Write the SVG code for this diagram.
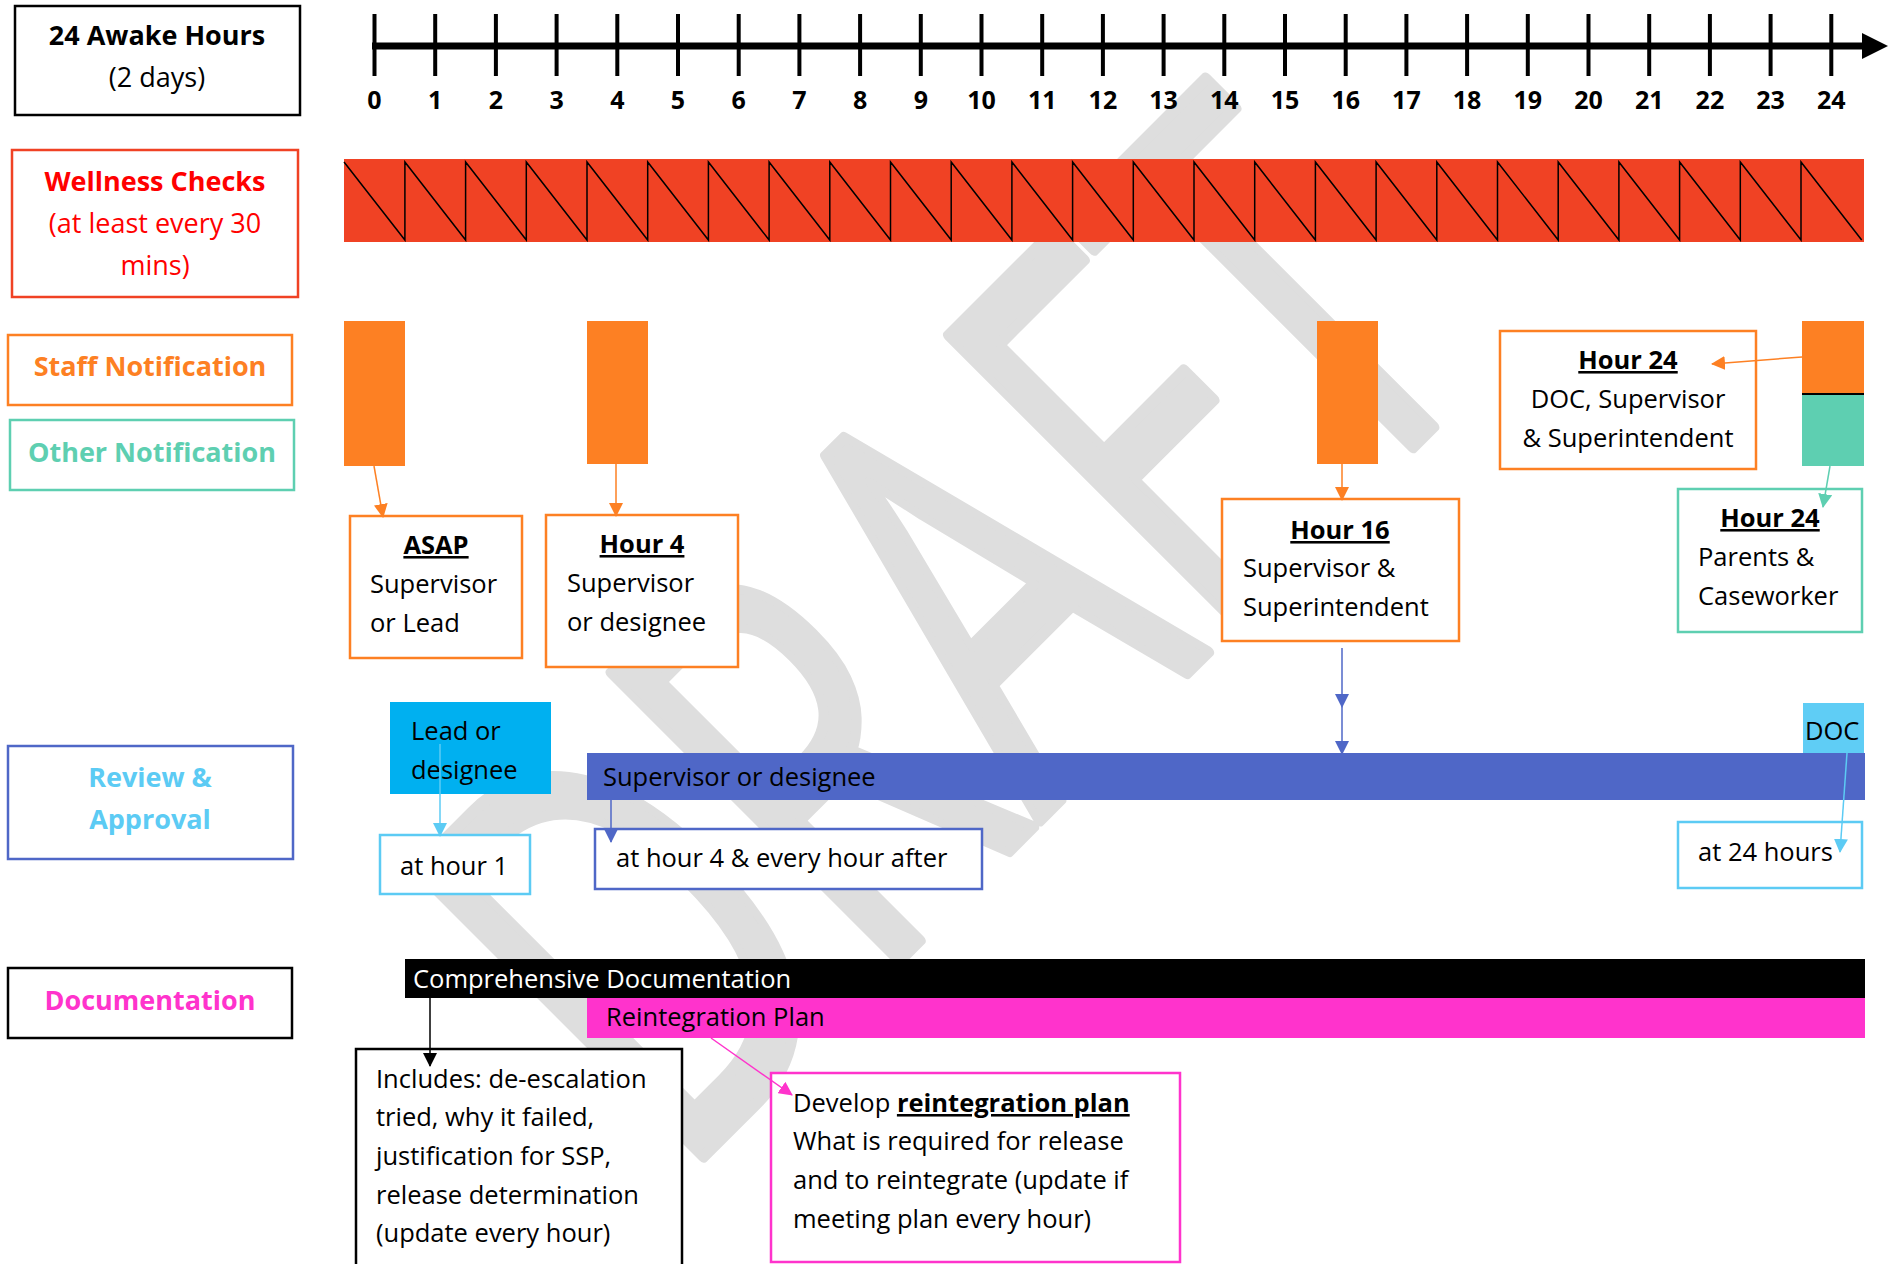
<svg xmlns="http://www.w3.org/2000/svg" width="1890" height="1264" viewBox="0 0 1890 1264">
<defs>
<style>
text{font-family:"Open Sans","Liberation Sans",sans-serif;fill:#000}
.lbl{font-weight:700;font-size:27px;text-anchor:middle}
.t{font-size:25.5px}
.hd{font-weight:700;text-decoration:underline;font-size:25.5px;text-anchor:middle}
.num{font-weight:700;font-size:25px;text-anchor:middle}
.box{fill:#fff;stroke-width:2.5}
.or{stroke:#FD8023}
.tl{stroke:#5ECFB1}
.lb{stroke:#5CCBF4}
.bl{stroke:#4F67C7}
.mg{stroke:#FF33CC}
.bk{stroke:#000}
.rd{stroke:#F04224}
.con{fill:none;stroke-width:1.5}
</style>
<marker id="aOr" markerWidth="14" markerHeight="14" refX="13" refY="7" orient="auto" markerUnits="userSpaceOnUse"><path d="M0,0 L14,7 L0,14z" fill="#FD8023"/></marker>
<marker id="aTl" markerWidth="14" markerHeight="14" refX="13" refY="7" orient="auto" markerUnits="userSpaceOnUse"><path d="M0,0 L14,7 L0,14z" fill="#5ECFB1"/></marker>
<marker id="aLb" markerWidth="14" markerHeight="14" refX="13" refY="7" orient="auto" markerUnits="userSpaceOnUse"><path d="M0,0 L14,7 L0,14z" fill="#5CCBF4"/></marker>
<marker id="aBl" markerWidth="14" markerHeight="14" refX="13" refY="7" orient="auto" markerUnits="userSpaceOnUse"><path d="M0,0 L14,7 L0,14z" fill="#4F67C7"/></marker>
<marker id="aMg" markerWidth="14" markerHeight="14" refX="13" refY="7" orient="auto" markerUnits="userSpaceOnUse"><path d="M0,0 L14,7 L0,14z" fill="#FF33CC"/></marker>
<marker id="aBk" markerWidth="14" markerHeight="14" refX="13" refY="7" orient="auto" markerUnits="userSpaceOnUse"><path d="M0,0 L14,7 L0,14z" fill="#000"/></marker>
</defs>
<rect width="1890" height="1264" fill="#fff"/>

<g id="watermark">
<text transform="translate(676,1184) rotate(-45) scale(0.67,1)" style="font-size:570px;fill:#DEDEDE;stroke:#DEDEDE;stroke-width:12;stroke-linejoin:round">DRAFT</text>
</g>

<g id="timeline">
<line x1="372" y1="46" x2="1866" y2="46" stroke="#000" stroke-width="7"/>
<path d="M1862,33 L1888,46 L1862,59z" fill="#000"/>
<g stroke="#000" stroke-width="4">
<line x1="374.5" y1="14" x2="374.5" y2="76"/><line x1="435.2" y1="14" x2="435.2" y2="76"/><line x1="495.9" y1="14" x2="495.9" y2="76"/><line x1="556.6" y1="14" x2="556.6" y2="76"/><line x1="617.3" y1="14" x2="617.3" y2="76"/><line x1="678" y1="14" x2="678" y2="76"/><line x1="738.7" y1="14" x2="738.7" y2="76"/><line x1="799.4" y1="14" x2="799.4" y2="76"/><line x1="860.1" y1="14" x2="860.1" y2="76"/><line x1="920.8" y1="14" x2="920.8" y2="76"/><line x1="981.5" y1="14" x2="981.5" y2="76"/><line x1="1042.2" y1="14" x2="1042.2" y2="76"/><line x1="1102.9" y1="14" x2="1102.9" y2="76"/><line x1="1163.6" y1="14" x2="1163.6" y2="76"/><line x1="1224.3" y1="14" x2="1224.3" y2="76"/><line x1="1285" y1="14" x2="1285" y2="76"/><line x1="1345.7" y1="14" x2="1345.7" y2="76"/><line x1="1406.4" y1="14" x2="1406.4" y2="76"/><line x1="1467.1" y1="14" x2="1467.1" y2="76"/><line x1="1527.8" y1="14" x2="1527.8" y2="76"/><line x1="1588.5" y1="14" x2="1588.5" y2="76"/><line x1="1649.2" y1="14" x2="1649.2" y2="76"/><line x1="1709.9" y1="14" x2="1709.9" y2="76"/><line x1="1770.6" y1="14" x2="1770.6" y2="76"/><line x1="1831.3" y1="14" x2="1831.3" y2="76"/>
</g>
<g class="num">
<text class="num" x="374.5" y="109">0</text><text class="num" x="435.2" y="109">1</text><text class="num" x="495.9" y="109">2</text><text class="num" x="556.6" y="109">3</text><text class="num" x="617.3" y="109">4</text><text class="num" x="678" y="109">5</text><text class="num" x="738.7" y="109">6</text><text class="num" x="799.4" y="109">7</text><text class="num" x="860.1" y="109">8</text><text class="num" x="920.8" y="109">9</text><text class="num" x="981.5" y="109">10</text><text class="num" x="1042.2" y="109">11</text><text class="num" x="1102.9" y="109">12</text><text class="num" x="1163.6" y="109">13</text><text class="num" x="1224.3" y="109">14</text><text class="num" x="1285" y="109">15</text><text class="num" x="1345.7" y="109">16</text><text class="num" x="1406.4" y="109">17</text><text class="num" x="1467.1" y="109">18</text><text class="num" x="1527.8" y="109">19</text><text class="num" x="1588.5" y="109">20</text><text class="num" x="1649.2" y="109">21</text><text class="num" x="1709.9" y="109">22</text><text class="num" x="1770.6" y="109">23</text><text class="num" x="1831.3" y="109">24</text>
</g>
</g>

<g id="label-hours">
<rect class="box bk" x="15" y="6" width="285" height="109"/>
<text class="lbl" x="157" y="45">24 Awake Hours</text>
<text class="lbl" x="157" y="87" style="font-weight:400">(2 days)</text>
</g>

<g id="label-wellness">
<rect class="box rd" x="12" y="150" width="286" height="147"/>
<text class="lbl" x="155" y="191" style="fill:#FF0000">Wellness Checks</text>
<text class="lbl" x="155" y="233" style="fill:#FF0000;font-weight:400">(at least every 30</text>
<text class="lbl" x="155" y="275" style="fill:#FF0000;font-weight:400">mins)</text>
</g>

<g id="wellness-band">
<rect x="344" y="159" width="1520" height="83" fill="#F04224"/>
<path d="M344,162 L404.9,240 L404.9,162 L465.6,240 L465.6,162 L526.3,240 L526.3,162 L587,240 L587,162 L647.7,240 L647.7,162 L708.4,240 L708.4,162 L769.1,240 L769.1,162 L829.8,240 L829.8,162 L890.5,240 L890.5,162 L951.2,240 L951.2,162 L1011.9,240 L1011.9,162 L1072.6,240 L1072.6,162 L1133.3,240 L1133.3,162 L1194,240 L1194,162 L1254.7,240 L1254.7,162 L1315.4,240 L1315.4,162 L1376.1,240 L1376.1,162 L1436.8,240 L1436.8,162 L1497.5,240 L1497.5,162 L1558.2,240 L1558.2,162 L1618.9,240 L1618.9,162 L1679.6,240 L1679.6,162 L1740.3,240 L1740.3,162 L1801,240 L1801,162 L1861.7,240" fill="none" stroke="#000" stroke-width="1.5"/>
</g>

<g id="label-staff">
<rect class="box or" x="8" y="335" width="284" height="70"/>
<text class="lbl" x="150" y="376" style="fill:#FD8023">Staff Notification</text>
</g>
<g id="label-other">
<rect class="box tl" x="10" y="420" width="284" height="70"/>
<text class="lbl" x="152" y="462" style="fill:#5ECFB1">Other Notification</text>
</g>

<g id="staff-bars">
<rect x="344" y="321" width="61" height="145" fill="#FD8023"/>
<rect x="587" y="321" width="61" height="143" fill="#FD8023"/>
<rect x="1317" y="321" width="61" height="143" fill="#FD8023"/>
<rect x="1802" y="321" width="62" height="73" fill="#FD8023"/>
<rect x="1802" y="394" width="62" height="72" fill="#5ECFB1"/>
<line x1="1802" y1="394" x2="1864" y2="394" stroke="#000" stroke-width="2"/>
</g>

<g id="node-asap">
<rect class="box or" x="350" y="516" width="172" height="142"/>
<text class="hd" x="436" y="554">ASAP</text>
<text class="t" x="370" y="593">Supervisor</text>
<text class="t" x="370" y="632">or Lead</text>
</g>
<g id="node-hour4">
<rect class="box or" x="546" y="515" width="192" height="152"/>
<text class="hd" x="642" y="553">Hour 4</text>
<text class="t" x="567" y="592">Supervisor</text>
<text class="t" x="567" y="631">or designee</text>
</g>
<g id="node-hour16">
<rect class="box or" x="1222" y="499" width="237" height="142"/>
<text class="hd" x="1340" y="539">Hour 16</text>
<text class="t" x="1243" y="577">Supervisor &amp;</text>
<text class="t" x="1243" y="616">Superintendent</text>
</g>
<g id="node-hour24-doc">
<rect class="box or" x="1500" y="331" width="256" height="138"/>
<text class="hd" x="1628" y="369">Hour 24</text>
<text class="t" x="1628" y="408" text-anchor="middle">DOC, Supervisor</text>
<text class="t" x="1628" y="447" text-anchor="middle">&amp; Superintendent</text>
</g>
<g id="node-hour24-parents">
<rect class="box tl" x="1678" y="489" width="184" height="143"/>
<text class="hd" x="1770" y="527">Hour 24</text>
<text class="t" x="1698" y="566">Parents &amp;</text>
<text class="t" x="1698" y="605">Caseworker</text>
</g>

<g id="label-review">
<rect class="box bl" x="8" y="746" width="285" height="113"/>
<text class="lbl" x="150" y="787" style="fill:#5CCBF4">Review &amp;</text>
<text class="lbl" x="150" y="829" style="fill:#5CCBF4">Approval</text>
</g>

<g id="review-bars">
<rect x="390" y="702" width="161" height="92" fill="#00B0F0"/>
<text class="t" x="411" y="740">Lead or</text>
<text class="t" x="411" y="779">designee</text>
<rect x="587" y="753" width="1278" height="47" fill="#4F67C7"/>
<text class="t" x="603" y="786">Supervisor or designee</text>
<rect x="1803" y="703" width="61" height="50" fill="#5FCDF5"/>
<text class="t" x="1805" y="740">DOC</text>
</g>

<g id="node-athour1">
<rect class="box lb" x="380" y="835" width="150" height="59"/>
<text class="t" x="400" y="875">at hour 1</text>
</g>
<g id="node-athour4">
<rect class="box bl" x="595" y="829" width="387" height="60"/>
<text class="t" x="616" y="867">at hour 4 &amp; every hour after</text>
</g>
<g id="node-at24">
<rect class="box lb" x="1678" y="822" width="184" height="66"/>
<text class="t" x="1698" y="861">at 24 hours</text>
</g>

<g id="label-doc">
<rect class="box bk" x="8" y="968" width="284" height="70"/>
<text class="lbl" x="150" y="1010" style="fill:#FF33CC">Documentation</text>
</g>

<g id="doc-bars">
<rect x="405" y="959" width="1460" height="39" fill="#000"/>
<text class="t" x="413" y="988" style="fill:#fff">Comprehensive Documentation</text>
<rect x="587" y="998" width="1278" height="40" fill="#FF33CC"/>
<text class="t" x="606" y="1026">Reintegration Plan</text>
</g>

<g id="node-includes">
<rect class="box bk" x="356" y="1049" width="326" height="230"/>
<text class="t" x="376" y="1088">Includes: de-escalation</text>
<text class="t" x="376" y="1126">tried, why it failed,</text>
<text class="t" x="376" y="1165">justification for SSP,</text>
<text class="t" x="376" y="1204">release determination</text>
<text class="t" x="376" y="1242">(update every hour)</text>
</g>
<g id="node-develop">
<rect class="box mg" x="771" y="1073" width="409" height="189"/>
<text class="t" x="793" y="1112">Develop <tspan style="font-weight:700;text-decoration:underline">reintegration plan</tspan></text>
<text class="t" x="793" y="1150">What is required for release</text>
<text class="t" x="793" y="1189">and to reintegrate (update if</text>
<text class="t" x="793" y="1228">meeting plan every hour)</text>
</g>

<g id="connectors">
<line class="con or" x1="374" y1="466" x2="383" y2="517" marker-end="url(#aOr)"/>
<line class="con or" x1="616" y1="464" x2="616" y2="516" marker-end="url(#aOr)"/>
<line class="con or" x1="1342" y1="464" x2="1342" y2="500" marker-end="url(#aOr)"/>
<line class="con or" x1="1802" y1="357" x2="1712" y2="364" marker-end="url(#aOr)"/>
<line class="con tl" x1="1830" y1="466" x2="1823" y2="507" marker-end="url(#aTl)"/>
<line class="con bl" x1="1342" y1="648" x2="1342" y2="707" marker-end="url(#aBl)"/>
<line class="con bl" x1="1342" y1="707" x2="1342" y2="754" marker-end="url(#aBl)"/>
<line class="con lb" x1="440" y1="744" x2="440" y2="836" marker-end="url(#aLb)"/>
<line class="con bl" x1="611" y1="800" x2="611" y2="842" marker-end="url(#aBl)"/>
<line class="con lb" x1="1847" y1="753" x2="1840" y2="852" marker-end="url(#aLb)"/>
<line class="con bk" x1="430" y1="998" x2="430" y2="1066" marker-end="url(#aBk)"/>
<line class="con mg" x1="711" y1="1038" x2="792" y2="1095" marker-end="url(#aMg)"/>
</g>
</svg>
